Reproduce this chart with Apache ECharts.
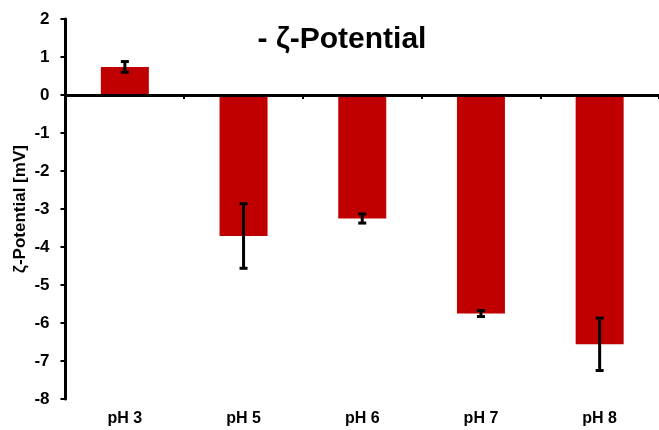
<!DOCTYPE html>
<html>
<head>
<meta charset="utf-8">
<script src="https://cdn.jsdelivr.net/npm/echarts@6/dist/echarts.min.js"></script>
<style>
  html, body { margin: 0; padding: 0; background: #fff; }
  #chart { width: 659px; height: 430px; }
</style>
</head>
<body>
<div id="chart"></div>
<script>
// pH conditions on the x axis
const categories = ['pH 3', 'pH 5', 'pH 6', 'pH 7', 'pH 8'];
// mean zeta potential per condition (mV)
const zetaMean = [0.74, -3.71, -3.25, -5.75, -6.56];
// standard deviation per condition (mV)
const zetaErr = [0.14, 0.85, 0.12, 0.08, 0.69];
// y-axis range and step
const yMin = -8;
const yMax = 2;
const yStep = 1;

const FONT = '"Liberation Sans", Arial, sans-serif';
const chart = echarts.init(document.getElementById('chart'), null, { renderer: 'canvas' });

const errData = categories.map((c, i) => [i, zetaMean[i] - zetaErr[i], zetaMean[i] + zetaErr[i]]);

chart.setOption({
  animation: false,
  backgroundColor: '#ffffff',
  title: {
    text: '- ζ-Potential',
    left: 342,
    top: 25,
    padding: 0,
    textAlign: 'center',
    textStyle: { fontFamily: FONT, fontWeight: 'bold', fontSize: 30, color: '#000' }
  },
  grid: { left: 65.5, right: -6.5, top: 19, bottom: 31, containLabel: false },
  xAxis: [
    {
      type: 'category',
      data: categories,
      z: 5,
      axisLine: { onZero: true, lineStyle: { color: '#000', width: 3 } },
      axisTick: { show: true, inside: false, length: 4, lineStyle: { color: '#000', width: 2 } },
      axisLabel: { show: false },
      splitLine: { show: false }
    },
    {
      type: 'category',
      data: categories,
      position: 'bottom',
      axisLine: { show: false, onZero: false },
      axisTick: { show: false },
      axisLabel: { show: true, margin: 12, fontFamily: FONT, fontWeight: 'bold', fontSize: 16, color: '#000' },
      splitLine: { show: false }
    }
  ],
  yAxis: {
    type: 'value',
    min: yMin,
    max: yMax,
    interval: yStep,
    name: 'ζ-Potential [mV]',
    nameLocation: 'middle',
    nameRotate: 90,
    nameGap: 37,
    nameMoveOverlap: false,
    nameTextStyle: { fontFamily: FONT, fontWeight: 'bold', fontSize: 17, color: '#000' },
    axisLine: { show: true, lineStyle: { color: '#000', width: 3 } },
    axisTick: { show: true, inside: false, length: 5, lineStyle: { color: '#000', width: 2 } },
    axisLabel: { margin: 16, fontFamily: FONT, fontWeight: 'bold', fontSize: 17, color: '#000' },
    splitLine: { show: false }
  },
  series: [
    {
      type: 'bar',
      data: zetaMean,
      xAxisIndex: 0,
      barWidth: 48,
      itemStyle: { color: '#C00000' },
      z: 2
    },
    {
      type: 'custom',
      xAxisIndex: 0,
      data: errData,
      z: 6,
      renderItem: function (params, api) {
        const idx = api.value(0);
        const lo = api.coord([idx, api.value(1)]);
        const hi = api.coord([idx, api.value(2)]);
        const cap = 4;
        const style = { stroke: '#000', lineWidth: 3 };
        return {
          type: 'group',
          children: [
            { type: 'line', shape: { x1: hi[0], y1: hi[1], x2: lo[0], y2: lo[1] }, style: style },
            { type: 'line', shape: { x1: hi[0] - cap, y1: hi[1], x2: hi[0] + cap, y2: hi[1] }, style: style },
            { type: 'line', shape: { x1: lo[0] - cap, y1: lo[1], x2: lo[0] + cap, y2: lo[1] }, style: style }
          ]
        };
      }
    }
  ]
});
</script>
</body>
</html>
